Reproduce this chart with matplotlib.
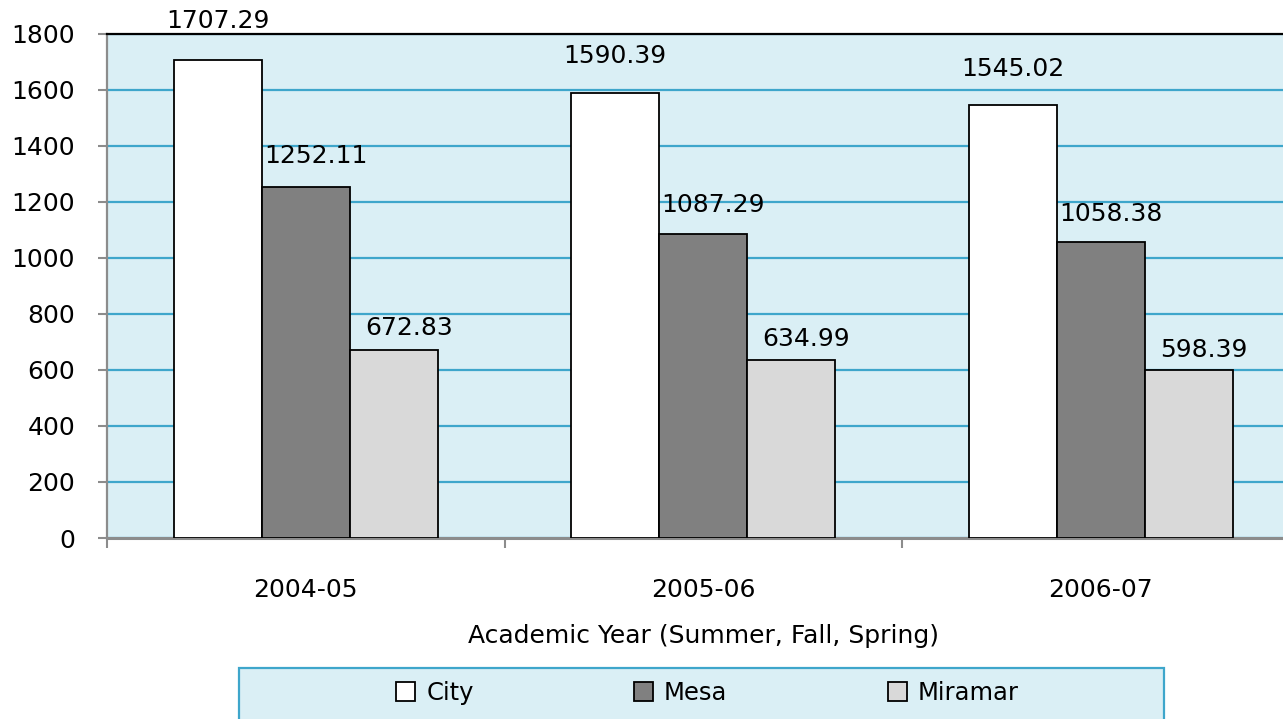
import matplotlib
matplotlib.use("Agg")
import matplotlib.pyplot as plt
from matplotlib.patches import Rectangle
import numpy as np

years = ["2004-05", "2005-06", "2006-07"]
city = [1707.29, 1590.39, 1545.02]
mesa = [1252.11, 1087.29, 1058.38]
miramar = [672.83, 634.99, 598.39]
series_names = ["City", "Mesa", "Miramar"]
yticks = [0, 200, 400, 600, 800, 1000, 1200, 1400, 1600, 1800]

bg = "#daeff5"
grid_blue = "#3ea6cb"
gray = "#8c8c8c"
fills = ["#ffffff", "#808080", "#d9d9d9"]
label_dx = [0, 7, 11]  # label shift per series, points

W, H = 1283, 719
fig = plt.figure(figsize=(W / 100, H / 100), dpi=100)
ax = fig.add_axes([107 / W, 1 - 538 / H, 1192.5 / W, 504 / H])
ax.set_facecolor(bg)

x = np.arange(len(years))
bw = 0.2214
for i, (name, vals) in enumerate(zip(series_names, [city, mesa, miramar])):
    xs = x + (i - 1) * bw
    ax.bar(xs, vals, bw, color=fills[i], edgecolor="black", linewidth=1.3,
           label=name, zorder=3)
    for xi, v in zip(xs, vals):
        ax.annotate(f"{v:.2f}", (xi, v * 1.06 + 36), xytext=(label_dx[i], 0),
                    textcoords="offset points", ha="center", va="center",
                    fontsize=18, zorder=4, annotation_clip=False)

ax.set_xlim(-0.5, 2.5)
ax.set_ylim(0, 1800)
ax.set_yticks(yticks)
ax.yaxis.grid(True, color=grid_blue, linewidth=1.6, zorder=1)
ax.set_axisbelow(True)

ax.set_xticks([-0.5, 0.5, 1.5, 2.5])
ax.set_xticklabels([])
ax.set_xticks(x, minor=True)
ax.set_xticklabels(years, minor=True)
ax.tick_params(axis="x", which="major", length=7.2, width=1.5, color=gray)
ax.tick_params(axis="x", which="minor", length=0, pad=29, labelsize=18)
ax.tick_params(axis="y", length=6.5, width=1.5, color=gray, pad=16.5, labelsize=18)

ax.spines["top"].set_color("black")
ax.spines["top"].set_linewidth(1.6)
ax.spines["left"].set_color(gray)
ax.spines["left"].set_linewidth(1.6)
ax.spines["bottom"].set_color(gray)
ax.spines["bottom"].set_linewidth(2.2)
ax.spines["right"].set_visible(False)

ax.set_xlabel("Academic Year (Summer, Fall, Spring)", fontsize=18)
ax.xaxis.set_label_coords(0.5, -(636 - 538) / 504)
ax.xaxis.label.set_verticalalignment("center")

# legend box at the bottom
fig.patches.append(Rectangle((239 / W, -0.05), (1164 - 239) / W, 0.05 + (719 - 668) / H,
                             transform=fig.transFigure, facecolor=bg,
                             edgecolor=grid_blue, linewidth=1.6, zorder=0))
handles, labels = ax.get_legend_handles_labels()
leg = fig.legend(handles, labels, loc="center", bbox_to_anchor=(707.5 / W, (719 - 693) / H),
                 ncol=3, frameon=False, fontsize=17.5, handlelength=0.78,
                 handleheight=0.78, handletextpad=0.45, columnspacing=6.6)

fig.savefig("out.png", dpi=100)
